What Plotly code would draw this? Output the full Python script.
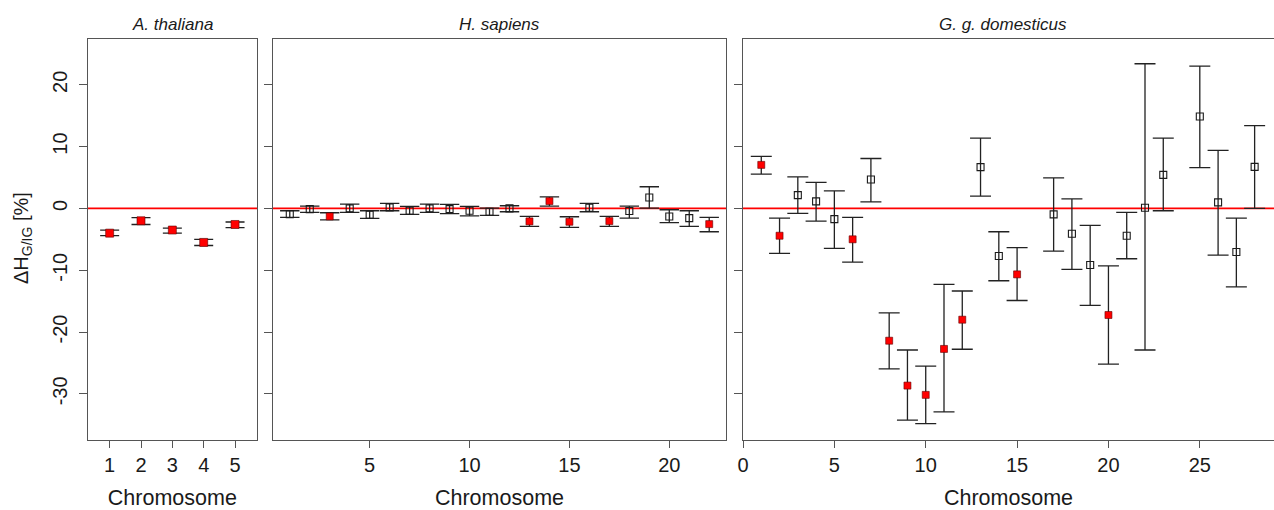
import plotly.graph_objects as go

# ---- data ----
thal_chr = [1, 2, 3, 4, 5]
thal_val = [-4.0, -2.0, -3.5, -5.5, -2.6]
thal_hi = [-3.5, -1.5, -3.2, -5.0, -2.2]
thal_lo = [-4.4, -2.6, -4.0, -6.0, -3.1]
thal_sig = [1, 1, 1, 1, 1]

hs_chr = list(range(1, 23))
hs_val = [-0.92, -0.11, -1.3, 0.0, -1.03, 0.16, -0.38, 0.0, -0.11, -0.38, -0.54, 0.0,
          -2.1, 1.18, -2.16, 0.1, -2.05, -0.43, 1.77, -1.3, -1.57, -2.54]
hs_hi = [-0.38, 0.37, -0.7, 0.7, -0.38, 0.8, 0.32, 0.7, 0.65, 0.32, 0.05, 0.43,
         -1.3, 1.88, -1.35, 0.8, -1.3, 0.37, 3.5, -0.22, -0.38, -1.46]
hs_lo = [-1.46, -0.65, -1.84, -0.65, -1.62, -0.38, -0.97, -0.65, -0.86, -1.2, -1.13, -0.54,
         -2.9, 0.37, -3.08, -0.54, -2.9, -1.57, 0.05, -2.3, -2.9, -3.78]
hs_sig = [0, 0, 1, 0, 0, 0, 0, 0, 0, 0, 0, 0, 1, 1, 1, 0, 1, 0, 0, 0, 0, 1]

gg_chr = [1, 2, 3, 4, 5, 6, 7, 8, 9, 10, 11, 12, 13, 14, 15,
          17, 18, 19, 20, 21, 22, 23, 25, 26, 27, 28]
gg_val = [7.04, -4.42, 2.15, 1.13, -1.73, -5.0, 4.68, -21.4, -28.66, -30.16, -22.73, -18.0,
          6.67, -7.7, -10.67, -0.97, -4.1, -9.16, -17.24, -4.42, 0.1, 5.43, 14.86, 0.97,
          -7.06, 6.72]
gg_hi = [8.4, -1.57, 5.1, 4.2, 2.85, -1.46, 8.07, -16.9, -22.9, -25.5, -12.3, -13.36,
         11.36, -3.78, -6.36, 4.95, 1.55, -2.75, -9.3, -0.65, 23.4, 11.36, 23.0, 9.4,
         -1.57, 13.4]
gg_lo = [5.54, -7.27, -0.81, -2.05, -6.47, -8.7, 1.07, -25.96, -34.25, -34.8, -32.9, -22.78,
         1.99, -11.7, -14.9, -6.9, -9.86, -15.7, -25.2, -8.14, -22.9, -0.38, 6.6, -7.55,
         -12.7, 0.0]
gg_sig = [1, 1, 0, 0, 0, 1, 0, 1, 1, 1, 1, 1, 0, 0, 1, 0, 0, 0, 1, 0, 0, 0, 0, 0, 0, 0]

panel_titles = ["A. thaliana", "H. sapiens", "G. g. domesticus"]
y_title = "ΔH<sub>G/IG</sub> [%]"
x_title = "Chromosome"
y_ticks = [-30, -20, -10, 0, 10, 20]

FONT = "Liberation Sans, Arial, sans-serif"
W, H = 1274, 510
FRAME = "#555555"
INK = "#1a1a1a"

panels = [
    (thal_chr, thal_val, thal_hi, thal_lo, thal_sig),
    (hs_chr, hs_val, hs_hi, hs_lo, hs_sig),
    (gg_chr, gg_val, gg_hi, gg_lo, gg_sig),
]
x_domains = [[87.7 / W, 257 / W], [273 / W, 726 / W], [743 / W, 1.0]]
x_ranges = [[0.3, 5.7], [0.16, 22.84], [0, 29.06]]
x_ticks = [[1, 2, 3, 4, 5], [5, 10, 15, 20], [0, 5, 10, 15, 20, 25]]
cap_w = [9.5, 9.7, 10.5]
y_domain = [1 - 440 / H, 1 - 39 / H]
y_range = [-37.46, 27.4]

fig = go.Figure()

for i, (chrs, val, hi, lo, sig) in enumerate(panels):
    xa = "x" if i == 0 else f"x{i+1}"
    ya = "y" if i == 0 else f"y{i+1}"
    for flag in (0, 1):
        idx = [k for k in range(len(chrs)) if sig[k] == flag]
        if not idx:
            continue
        xs = [chrs[k] for k in idx]
        ys = [val[k] for k in idx]
        up = [hi[k] - val[k] for k in idx]
        dn = [val[k] - lo[k] for k in idx]
        if flag:
            marker = dict(symbol="square", size=8 if i == 0 else 7, color="#ff0000",
                          line=dict(width=0.6, color="#600000"))
        else:
            marker = dict(symbol="square-open", size=7, color=INK, line=dict(width=1.1))
        fig.add_trace(go.Scatter(
            x=xs, y=ys, mode="markers", marker=marker, xaxis=xa, yaxis=ya,
            showlegend=False, hoverinfo="skip",
            error_y=dict(type="data", symmetric=False, array=up, arrayminus=dn,
                         color="#222222", thickness=1.3, width=cap_w[i]),
        ))
    # red reference line at 0
    fig.add_shape(type="line", xref=f"{xa} domain", yref=ya, x0=0, x1=1, y0=0, y1=0,
                  line=dict(color="#ff0000", width=1.8), layer="below")

layout = dict(
    width=W, height=H, margin=dict(l=0, r=0, t=0, b=0, autoexpand=False),
    paper_bgcolor="white", plot_bgcolor="white",
    font=dict(family=FONT, color=INK),
)
for i in range(3):
    xk = "xaxis" if i == 0 else f"xaxis{i+1}"
    yk = "yaxis" if i == 0 else f"yaxis{i+1}"
    ya = "y" if i == 0 else f"y{i+1}"
    xa = "x" if i == 0 else f"x{i+1}"
    layout[xk] = dict(
        domain=x_domains[i], range=x_ranges[i], anchor=ya, automargin=False,
        tickmode="array", tickvals=x_ticks[i], ticktext=[str(t) for t in x_ticks[i]],
        ticks="outside", ticklen=7, tickcolor=FRAME, tickwidth=1,
        showline=True, linecolor=FRAME, linewidth=1.2, mirror=True,
        showgrid=False, zeroline=False,
        tickfont=dict(size=20, family=FONT, color=INK),
        title=dict(text=x_title, font=dict(size=21.5, family=FONT, color=INK), standoff=16),
    )
    layout[yk] = dict(
        domain=y_domain, range=y_range, anchor=xa, automargin=False,
        tickmode="array", tickvals=y_ticks, ticktext=[str(t) for t in y_ticks],
        showticklabels=(i == 0),
        ticks="outside", ticklen=8, tickcolor=FRAME, tickwidth=1,
        showline=True, linecolor=FRAME, linewidth=1.2, mirror=(i < 2),
        showgrid=False, zeroline=False,
        tickangle=-90, ticklabelstandoff=4,
        tickfont=dict(size=20, family=FONT, color=INK),
    )

annotations = []
for i in range(3):
    xd = x_domains[i]
    cx = (xd[0] + (743 + 28.5 * 18.26) / W) / 2 if i == 2 else (xd[0] + xd[1]) / 2
    annotations.append(dict(
        text=f"<i>{panel_titles[i]}</i>", xref="paper", yref="paper",
        x=cx, y=1 - 24 / H, xanchor="center", yanchor="middle", showarrow=False,
        font=dict(size=17, family=FONT, color=INK),
    ))
annotations.append(dict(
    text=y_title, xref="paper", yref="paper", x=22 / W, y=1 - 238 / H,
    xanchor="center", yanchor="middle", textangle=-90, showarrow=False,
    font=dict(size=20, family=FONT, color=INK),
))
layout["annotations"] = annotations
fig.update_layout(**layout)

fig.write_html("out.html", config={"displayModeBar": False},
               post_script="document.body.style.margin='0';document.body.style.padding='0';")
